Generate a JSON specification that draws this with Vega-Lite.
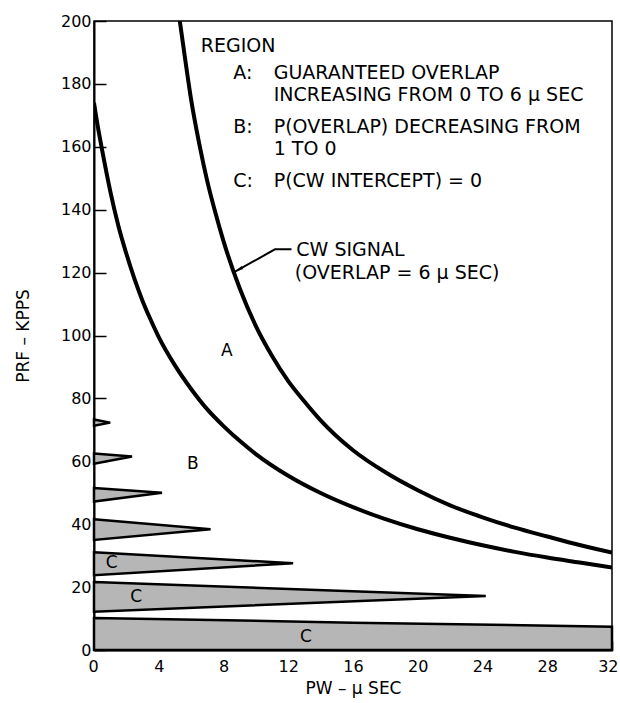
{
  "$schema": "https://vega.github.io/schema/vega-lite/v6.json",
  "width": 518,
  "height": 629,
  "autosize": {"type": "none"},
  "padding": {"left": 94, "top": 21, "right": 8, "bottom": 53},
  "background": "white",
  "config": {
    "font": "DejaVu Sans",
    "view": {"stroke": "black", "strokeWidth": 1.5},
    "axis": {
      "grid": false,
      "domainColor": "black",
      "domainWidth": 2,
      "tickColor": "black",
      "tickWidth": 1.5,
      "labelColor": "black",
      "titleColor": "black",
      "labelFontSize": 16,
      "titleFontSize": 17,
      "titleFontWeight": "normal",
      "labelFlush": false,
      "labelOverlap": false,
      "zindex": 1
    },
    "axisX": {"tickSize": -9, "labelPadding": 17, "titlePadding": 6, "labelFlush": true, "labelFlushOffset": 6},
    "axisY": {"tickSize": -12, "labelPadding": 15, "titlePadding": 28}
  },
  "datasets": {
    "wedges": [
      {"band": "w73", "pw": 0, "top": 73.3, "bottom": 71.3},
      {"band": "w73", "pw": 1.0, "top": 72.3, "bottom": 72.3},
      {"band": "w61", "pw": 0, "top": 62.5, "bottom": 59.2},
      {"band": "w61", "pw": 2.35, "top": 61.5, "bottom": 61.5},
      {"band": "w50", "pw": 0, "top": 51.5, "bottom": 47.2},
      {"band": "w50", "pw": 4.2, "top": 50.0, "bottom": 50.0},
      {"band": "w38", "pw": 0, "top": 41.6, "bottom": 35.0},
      {"band": "w38", "pw": 7.2, "top": 38.4, "bottom": 38.4},
      {"band": "w28", "pw": 0, "top": 31.1, "bottom": 23.8},
      {"band": "w28", "pw": 12.3, "top": 27.6, "bottom": 27.6},
      {"band": "w17", "pw": 0, "top": 21.6, "bottom": 12.2},
      {"band": "w17", "pw": 24.2, "top": 17.2, "bottom": 17.2},
      {"band": "base", "pw": 0, "top": 10.2, "bottom": 0},
      {"band": "base", "pw": 16, "top": 8.7, "bottom": 0},
      {"band": "base", "pw": 32, "top": 7.4, "bottom": 0}
    ],
    "curves": [
      {"curve": "cw", "pw": 5.3, "prf": 200},
      {"curve": "cw", "pw": 5.6, "prf": 189},
      {"curve": "cw", "pw": 6, "prf": 175},
      {"curve": "cw", "pw": 6.5, "prf": 161},
      {"curve": "cw", "pw": 7, "prf": 149},
      {"curve": "cw", "pw": 7.5, "prf": 139},
      {"curve": "cw", "pw": 8, "prf": 130},
      {"curve": "cw", "pw": 9, "prf": 115},
      {"curve": "cw", "pw": 10, "prf": 103},
      {"curve": "cw", "pw": 11, "prf": 93.5},
      {"curve": "cw", "pw": 12, "prf": 85.5},
      {"curve": "cw", "pw": 13, "prf": 79},
      {"curve": "cw", "pw": 14, "prf": 73},
      {"curve": "cw", "pw": 16, "prf": 63.5},
      {"curve": "cw", "pw": 18, "prf": 56.5},
      {"curve": "cw", "pw": 20, "prf": 50.8},
      {"curve": "cw", "pw": 22, "prf": 46},
      {"curve": "cw", "pw": 24, "prf": 42.2},
      {"curve": "cw", "pw": 26, "prf": 38.9},
      {"curve": "cw", "pw": 28, "prf": 36.1},
      {"curve": "cw", "pw": 30, "prf": 33.4},
      {"curve": "cw", "pw": 32, "prf": 31.0},
      {"curve": "ov", "pw": 0, "prf": 174},
      {"curve": "ov", "pw": 0.25, "prf": 166},
      {"curve": "ov", "pw": 0.5, "prf": 159},
      {"curve": "ov", "pw": 1, "prf": 146},
      {"curve": "ov", "pw": 1.5, "prf": 135},
      {"curve": "ov", "pw": 2, "prf": 126},
      {"curve": "ov", "pw": 2.5, "prf": 118},
      {"curve": "ov", "pw": 3, "prf": 111},
      {"curve": "ov", "pw": 3.5, "prf": 105},
      {"curve": "ov", "pw": 4, "prf": 99.5},
      {"curve": "ov", "pw": 5, "prf": 90.5},
      {"curve": "ov", "pw": 6, "prf": 83},
      {"curve": "ov", "pw": 7, "prf": 76.5},
      {"curve": "ov", "pw": 8, "prf": 71.2},
      {"curve": "ov", "pw": 9, "prf": 66.5},
      {"curve": "ov", "pw": 10, "prf": 62.3},
      {"curve": "ov", "pw": 12, "prf": 55.4},
      {"curve": "ov", "pw": 14, "prf": 49.9},
      {"curve": "ov", "pw": 16, "prf": 45.4},
      {"curve": "ov", "pw": 18, "prf": 41.6},
      {"curve": "ov", "pw": 20, "prf": 38.4},
      {"curve": "ov", "pw": 22, "prf": 35.7},
      {"curve": "ov", "pw": 24, "prf": 33.3},
      {"curve": "ov", "pw": 26, "prf": 31.2},
      {"curve": "ov", "pw": 28, "prf": 29.4},
      {"curve": "ov", "pw": 30, "prf": 27.8},
      {"curve": "ov", "pw": 32, "prf": 26.2}
    ],
    "notes": [
      {"pw": 6.6, "prf": 192.1, "label": "REGION"},
      {"pw": 8.6, "prf": 183.5, "label": "A:"},
      {"pw": 11.1, "prf": 183.5, "label": "GUARANTEED OVERLAP"},
      {"pw": 11.1, "prf": 176.4, "label": "INCREASING FROM 0 TO 6 µ SEC"},
      {"pw": 8.6, "prf": 166.3, "label": "B:"},
      {"pw": 11.1, "prf": 166.3, "label": "P(OVERLAP) DECREASING FROM"},
      {"pw": 11.1, "prf": 159.4, "label": "1 TO 0"},
      {"pw": 8.6, "prf": 149.1, "label": "C:"},
      {"pw": 11.1, "prf": 149.1, "label": "P(CW INTERCEPT) = 0"},
      {"pw": 12.5, "prf": 127.2, "label": "CW SIGNAL"},
      {"pw": 12.4, "prf": 119.9, "label": "(OVERLAP = 6 µ SEC)"}
    ],
    "regions": [
      {"pw": 8.2, "prf": 95, "label": "A"},
      {"pw": 6.1, "prf": 59.1, "label": "B"},
      {"pw": 1.1, "prf": 27.6, "label": "C"},
      {"pw": 2.6, "prf": 17.0, "label": "C"},
      {"pw": 13.1, "prf": 4.2, "label": "C"}
    ],
    "arrow": [
      {"order": 1, "pw": 12.2, "prf": 127.4},
      {"order": 2, "pw": 11.18, "prf": 127.4},
      {"order": 3, "pw": 8.71, "prf": 120.3}
    ],
    "arrowhead": [
      {"pw": 8.71, "prf": 120.3}
    ]
  },
  "layer": [
    {
      "data": {"name": "wedges"},
      "mark": {"type": "area", "fill": "#b6b6b6", "fillOpacity": 1, "stroke": "black", "strokeWidth": 2.5, "strokeJoin": "miter"},
      "encoding": {
        "x": {"field": "pw", "type": "quantitative", "scale": {"domain": [0, 32], "nice": false}, "axis": {"values": [0, 4, 8, 12, 16, 20, 24, 28, 32]}, "title": "PW – µ SEC"},
        "y": {"field": "top", "type": "quantitative", "scale": {"domain": [0, 200], "nice": false}, "axis": {"values": [0, 20, 40, 60, 80, 100, 120, 140, 160, 180, 200]}, "title": "PRF – KPPS"},
        "y2": {"field": "bottom"},
        "detail": {"field": "band"}
      }
    },
    {
      "data": {"name": "curves"},
      "mark": {"type": "line", "color": "black", "strokeWidth": 4, "interpolate": "monotone", "clip": true},
      "encoding": {
        "x": {"field": "pw", "type": "quantitative", "scale": {"domain": [0, 32], "nice": false}, "title": "PW – µ SEC"},
        "y": {"field": "prf", "type": "quantitative", "scale": {"domain": [0, 200], "nice": false}, "title": "PRF – KPPS"},
        "detail": {"field": "curve"}
      }
    },
    {
      "data": {"name": "arrow"},
      "mark": {"type": "line", "color": "black", "strokeWidth": 2},
      "encoding": {
        "x": {"field": "pw", "type": "quantitative", "title": "PW – µ SEC"},
        "y": {"field": "prf", "type": "quantitative", "title": "PRF – KPPS"},
        "order": {"field": "order"}
      }
    },
    {
      "data": {"name": "arrowhead"},
      "mark": {"type": "point", "shape": "M0,0L-0.45,2.2L0.45,2.2Z", "filled": true, "color": "black", "opacity": 1, "size": 60, "angle": 240},
      "encoding": {
        "x": {"field": "pw", "type": "quantitative", "title": "PW – µ SEC"},
        "y": {"field": "prf", "type": "quantitative", "title": "PRF – KPPS"}
      }
    },
    {
      "data": {"name": "notes"},
      "mark": {"type": "text", "align": "left", "baseline": "middle", "fontSize": 19, "color": "black"},
      "encoding": {
        "x": {"field": "pw", "type": "quantitative", "title": "PW – µ SEC"},
        "y": {"field": "prf", "type": "quantitative", "title": "PRF – KPPS"},
        "text": {"field": "label"}
      }
    },
    {
      "data": {"name": "regions"},
      "mark": {"type": "text", "align": "center", "baseline": "middle", "fontSize": 17, "color": "black"},
      "encoding": {
        "x": {"field": "pw", "type": "quantitative", "title": "PW – µ SEC"},
        "y": {"field": "prf", "type": "quantitative", "title": "PRF – KPPS"},
        "text": {"field": "label"}
      }
    }
  ]
}
